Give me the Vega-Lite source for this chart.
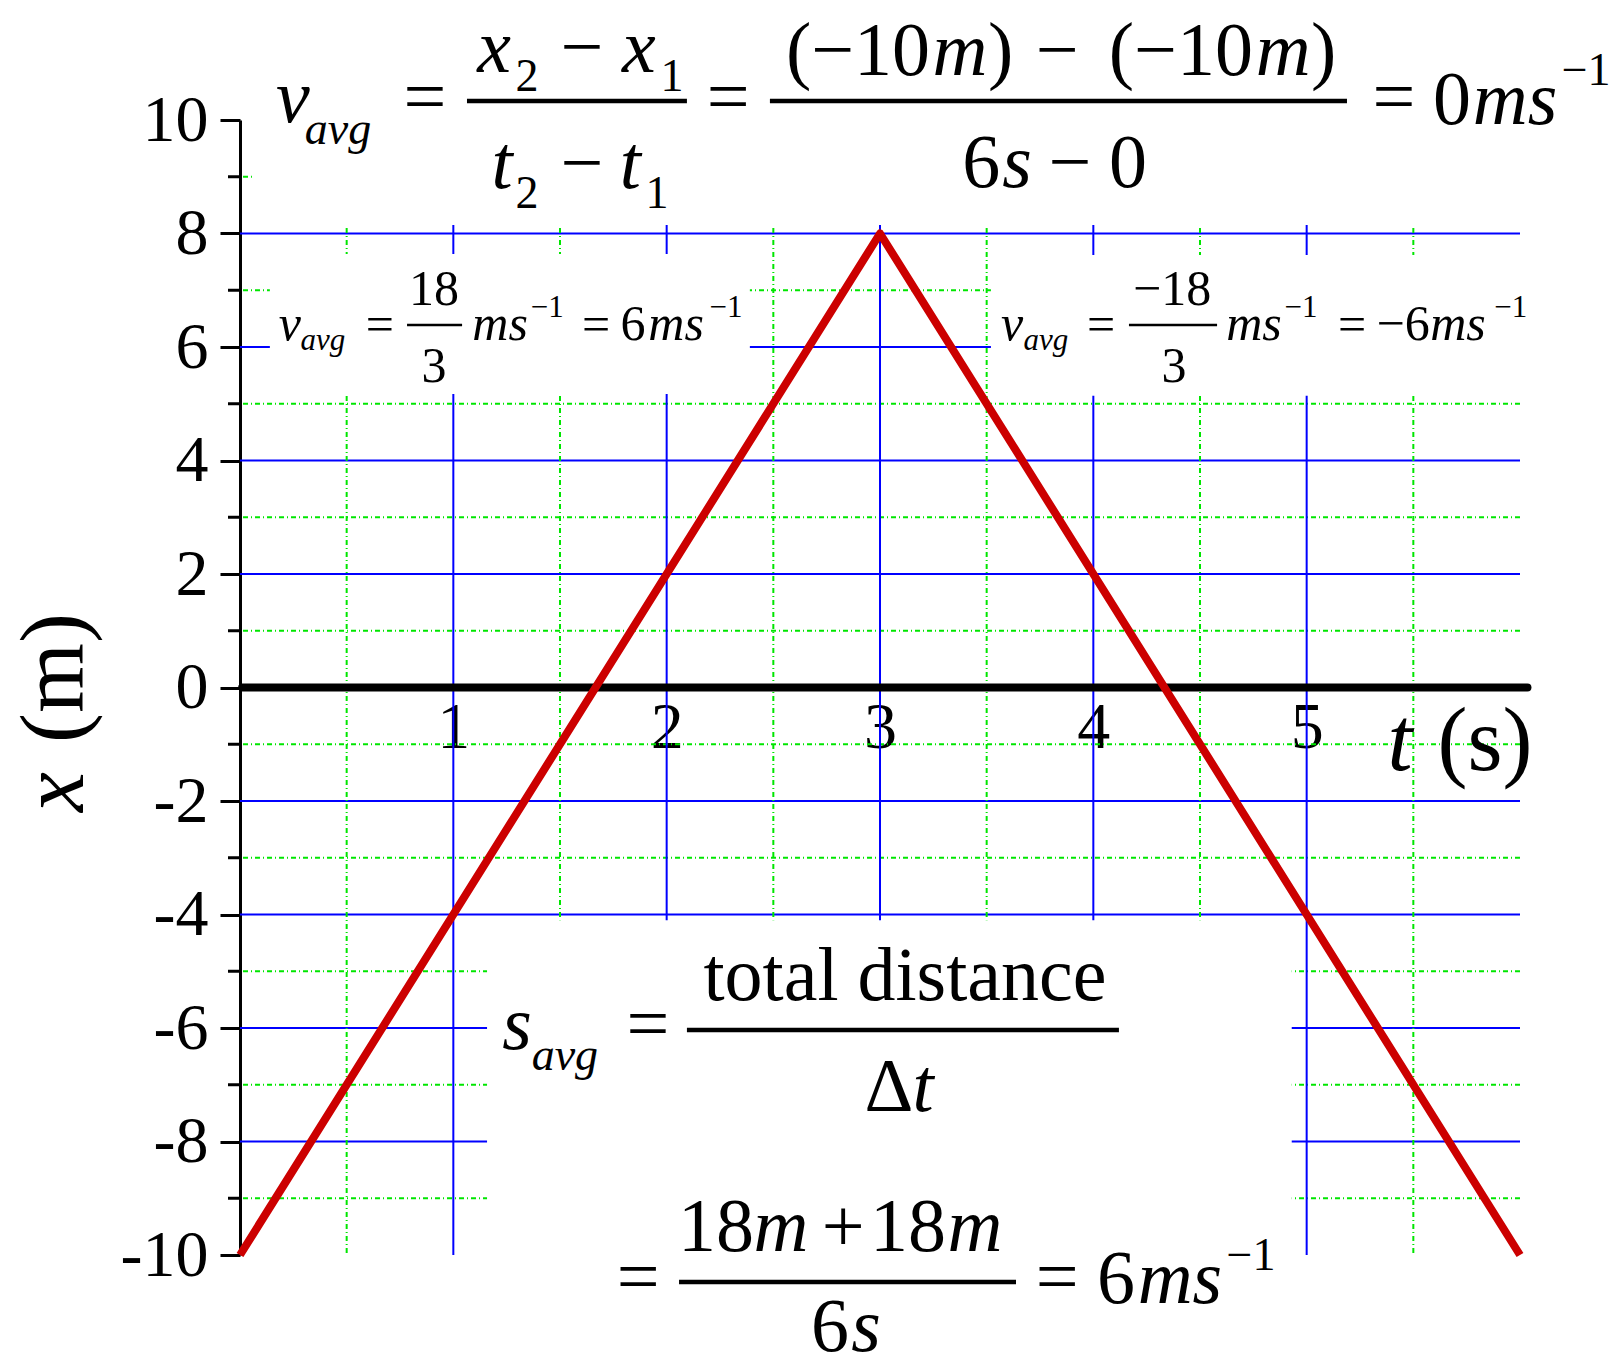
{
  "$schema": "https://vega.github.io/schema/vega-lite/v6.json",
  "autosize": "none",
  "padding": {"left": 240, "top": 120, "right": 101, "bottom": 116},
  "width": 1280,
  "height": 1135,
  "background": "white",
  "config": {"view": {"stroke": null}},
  "datasets": {
    "hgrid": [
      {"y": -9, "kind": "minor"}, {"y": -8, "kind": "major"}, {"y": -7, "kind": "minor"}, {"y": -6, "kind": "major"},
      {"y": -5, "kind": "minor"}, {"y": -4, "kind": "major"}, {"y": -3, "kind": "minor"}, {"y": -2, "kind": "major"},
      {"y": -1, "kind": "minor"}, {"y": 0, "kind": "major"}, {"y": 1, "kind": "minor"}, {"y": 2, "kind": "major"},
      {"y": 3, "kind": "minor"}, {"y": 4, "kind": "major"}, {"y": 5, "kind": "minor"}, {"y": 6, "kind": "major"},
      {"y": 7, "kind": "minor"}, {"y": 8, "kind": "major"}, {"y": 9, "kind": "minor"}
    ],
    "vgrid": [
      {"t": 0.5, "kind": "minor"}, {"t": 1, "kind": "major"}, {"t": 1.5, "kind": "minor"}, {"t": 2, "kind": "major"},
      {"t": 2.5, "kind": "minor"}, {"t": 3, "kind": "major"}, {"t": 3.5, "kind": "minor"}, {"t": 4, "kind": "major"},
      {"t": 4.5, "kind": "minor"}, {"t": 5, "kind": "major"}, {"t": 5.5, "kind": "minor"}
    ],
    "curve": [{"t": 0, "x": -10}, {"t": 3, "x": 8}, {"t": 6, "x": -10}],
    "blanks": [
      {"t1": 0.056, "t2": 6.1, "y1": 8.15, "y2": 10},
      {"t1": 0.14, "t2": 2.39, "y1": 5.17, "y2": 7.64},
      {"t1": 3.52, "t2": 6.1, "y1": 5.14, "y2": 7.62},
      {"t1": 1.158, "t2": 4.93, "y1": -10, "y2": -4.1}
    ],
    "bars": [
      {"t1": 1.064, "t2": 2.095, "y": 10.335, "group": "main"},
      {"t1": 2.484, "t2": 5.189, "y": 10.335, "group": "main"},
      {"t1": 0.783, "t2": 1.041, "y": 6.388, "group": "mid"},
      {"t1": 4.167, "t2": 4.58, "y": 6.388, "group": "mid"},
      {"t1": 2.095, "t2": 4.12, "y": -6.035, "group": "main"},
      {"t1": 2.058, "t2": 3.6375, "y": -10.476, "group": "main"}
    ],
    "texts": [
      {"text": "v", "t": 0.248, "y": 9.965, "role": "main", "kind": "var"},
      {"text": "avg", "t": 0.459, "y": 9.577, "role": "sub", "kind": "var"},
      {"text": "=", "t": 0.867, "y": 9.965, "role": "main", "kind": "num"},
      {"text": "x", "t": 1.191, "y": 10.846, "role": "main", "kind": "var"},
      {"text": "2", "t": 1.345, "y": 10.511, "role": "sub", "kind": "num"},
      {"text": "−", "t": 1.603, "y": 10.846, "role": "main", "kind": "num"},
      {"text": "x", "t": 1.87, "y": 10.846, "role": "main", "kind": "var"},
      {"text": "1", "t": 2.025, "y": 10.511, "role": "sub", "kind": "num"},
      {"text": "t", "t": 1.228, "y": 8.802, "role": "main", "kind": "var"},
      {"text": "2", "t": 1.345, "y": 8.449, "role": "sub", "kind": "num"},
      {"text": "−", "t": 1.603, "y": 8.802, "role": "main", "kind": "num"},
      {"text": "t", "t": 1.83, "y": 8.802, "role": "main", "kind": "var"},
      {"text": "1", "t": 1.955, "y": 8.449, "role": "sub", "kind": "num"},
      {"text": "=", "t": 2.288, "y": 9.965, "role": "main", "kind": "num"},
      {"text": "(−10", "t": 2.897, "y": 10.793, "role": "main", "kind": "num"},
      {"text": "m", "t": 3.375, "y": 10.793, "role": "main", "kind": "var"},
      {"text": ")", "t": 3.565, "y": 10.793, "role": "main", "kind": "num"},
      {"text": "−", "t": 3.83, "y": 10.793, "role": "main", "kind": "num"},
      {"text": "(−10", "t": 4.41, "y": 10.793, "role": "main", "kind": "num"},
      {"text": "m", "t": 4.89, "y": 10.793, "role": "main", "kind": "var"},
      {"text": ")", "t": 5.08, "y": 10.793, "role": "main", "kind": "num"},
      {"text": "6", "t": 3.475, "y": 8.819, "role": "main", "kind": "num"},
      {"text": "s", "t": 3.642, "y": 8.819, "role": "main", "kind": "var"},
      {"text": "−", "t": 3.89, "y": 8.819, "role": "main", "kind": "num"},
      {"text": "0", "t": 4.1625, "y": 8.819, "role": "main", "kind": "num"},
      {"text": "=", "t": 5.409, "y": 9.965, "role": "main", "kind": "num"},
      {"text": "0", "t": 5.681, "y": 9.93, "role": "main", "kind": "num"},
      {"text": "ms", "t": 5.977, "y": 9.93, "role": "main", "kind": "var"},
      {"text": "−1", "t": 6.31, "y": 10.617, "role": "sub", "kind": "num"},
      {"text": "v", "t": 0.234, "y": 6.123, "role": "mid", "kind": "var"},
      {"text": "avg", "t": 0.389, "y": 5.947, "role": "midsub", "kind": "var"},
      {"text": "=", "t": 0.656, "y": 6.106, "role": "mid", "kind": "num"},
      {"text": "18", "t": 0.909, "y": 6.74, "role": "mid", "kind": "num"},
      {"text": "3", "t": 0.909, "y": 5.383, "role": "mid", "kind": "num"},
      {"text": "ms", "t": 1.219, "y": 6.123, "role": "mid", "kind": "var"},
      {"text": "−1", "t": 1.44, "y": 6.529, "role": "midsub", "kind": "num"},
      {"text": "=", "t": 1.669, "y": 6.106, "role": "mid", "kind": "num"},
      {"text": "6", "t": 1.842, "y": 6.123, "role": "mid", "kind": "num"},
      {"text": "ms", "t": 2.044, "y": 6.123, "role": "mid", "kind": "var"},
      {"text": "−1", "t": 2.278, "y": 6.529, "role": "midsub", "kind": "num"},
      {"text": "v", "t": 3.619, "y": 6.123, "role": "mid", "kind": "var"},
      {"text": "avg", "t": 3.778, "y": 5.947, "role": "midsub", "kind": "var"},
      {"text": "=", "t": 4.036, "y": 6.106, "role": "mid", "kind": "num"},
      {"text": "−18", "t": 4.369, "y": 6.74, "role": "mid", "kind": "num"},
      {"text": "3", "t": 4.378, "y": 5.383, "role": "mid", "kind": "num"},
      {"text": "ms", "t": 4.753, "y": 6.123, "role": "mid", "kind": "var"},
      {"text": "−1", "t": 4.973, "y": 6.529, "role": "midsub", "kind": "num"},
      {"text": "=", "t": 5.2125, "y": 6.106, "role": "mid", "kind": "num"},
      {"text": "−6", "t": 5.452, "y": 6.123, "role": "mid", "kind": "num"},
      {"text": "ms", "t": 5.709, "y": 6.123, "role": "mid", "kind": "var"},
      {"text": "−1", "t": 5.957, "y": 6.529, "role": "midsub", "kind": "num"},
      {"text": "s", "t": 1.298, "y": -6.37, "role": "main", "kind": "var"},
      {"text": "avg", "t": 1.523, "y": -6.74, "role": "sub", "kind": "var"},
      {"text": "=", "t": 1.9125, "y": -6.37, "role": "main", "kind": "num"},
      {"text": "total distance", "t": 3.117, "y": -5.507, "role": "main", "kind": "num"},
      {"text": "Δ", "t": 3.042, "y": -7.463, "role": "main", "kind": "num"},
      {"text": "t", "t": 3.202, "y": -7.463, "role": "main", "kind": "var"},
      {"text": "=", "t": 1.866, "y": -10.828, "role": "main", "kind": "num"},
      {"text": "18", "t": 2.231, "y": -9.93, "role": "main", "kind": "num"},
      {"text": "m", "t": 2.536, "y": -9.93, "role": "main", "kind": "var"},
      {"text": "+", "t": 2.827, "y": -9.93, "role": "main", "kind": "num"},
      {"text": "18", "t": 3.131, "y": -9.93, "role": "main", "kind": "num"},
      {"text": "m", "t": 3.445, "y": -9.93, "role": "main", "kind": "var"},
      {"text": "6", "t": 2.766, "y": -11.7, "role": "main", "kind": "num"},
      {"text": "s", "t": 2.934, "y": -11.7, "role": "main", "kind": "var"},
      {"text": "=", "t": 3.83, "y": -10.828, "role": "main", "kind": "num"},
      {"text": "6", "t": 4.106, "y": -10.846, "role": "main", "kind": "num"},
      {"text": "ms", "t": 4.406, "y": -10.846, "role": "main", "kind": "var"},
      {"text": "−1", "t": 4.739, "y": -10.264, "role": "sub", "kind": "num"},
      {"text": "t", "t": 5.4375, "y": -1.454, "role": "axis", "kind": "var"},
      {"text": "(s)", "t": 5.836, "y": -1.454, "role": "axis", "kind": "num"},
      {"text": "x", "t": -0.736, "y": -1.841, "role": "ytitle", "kind": "var"},
      {"text": "(m)", "t": -0.736, "y": 0.167, "role": "ytitle", "kind": "num"}
    ]
  },
  "layer": [
    {
      "data": {"name": "hgrid"},
      "mark": {"type": "rule", "strokeWidth": 2},
      "encoding": {
        "y": {
          "field": "y", "type": "quantitative",
          "scale": {"domain": [-10, 10], "nice": false, "zero": false},
          "axis": {"values": [-10, -8, -6, -4, -2, 0, 2, 4, 6, 8, 10], "grid": false, "title": null, "domainColor": "black", "domainWidth": 3, "tickColor": "black", "tickWidth": 3, "tickSize": 20, "labelFont": "Liberation Serif", "labelFontSize": 66, "labelColor": "black", "labelPadding": 12, "labelExpr": "'' + datum.value"}
        },
        "color": {"field": "kind", "type": "nominal", "scale": {"domain": ["major", "minor"], "range": ["#0000ff", "#00e600"]}, "legend": null},
        "strokeDash": {"field": "kind", "type": "nominal", "scale": {"domain": ["major", "minor"], "range": [[1, 0], [5, 3, 1, 3]]}, "legend": null}
      }
    },
    {
      "data": {"name": "vgrid"},
      "mark": {"type": "rule", "strokeWidth": 2},
      "encoding": {
        "x": {
          "field": "t", "type": "quantitative",
          "scale": {"domain": [0, 6], "nice": false, "zero": false},
          "axis": {"values": [1, 2, 3, 4, 5], "orient": "bottom", "offset": -567.5, "domain": false, "ticks": false, "tickSize": 0, "grid": false, "title": null, "labelFont": "Liberation Serif", "labelFontSize": 66, "labelColor": "black", "labelBaseline": "alphabetic", "labelPadding": 60}
        },
        "color": {"field": "kind", "type": "nominal", "scale": {"domain": ["major", "minor"], "range": ["#0000ff", "#00e600"]}, "legend": null},
        "strokeDash": {"field": "kind", "type": "nominal", "scale": {"domain": ["major", "minor"], "range": [[1, 0], [5, 3, 1, 3]]}, "legend": null}
      }
    },
    {
      "data": {"name": "hgrid"},
      "transform": [{"filter": "datum.kind === 'minor'"}],
      "mark": {"type": "rule", "color": "black", "strokeWidth": 3},
      "encoding": {
        "x": {"datum": -0.05625, "type": "quantitative", "scale": {"domain": [0, 6], "nice": false, "zero": false}, "axis": {"values": [1, 2, 3, 4, 5], "orient": "bottom", "offset": -567.5, "domain": false, "ticks": false, "tickSize": 0, "grid": false, "title": null, "labelFont": "Liberation Serif", "labelFontSize": 66, "labelColor": "black", "labelBaseline": "alphabetic", "labelPadding": 60}},
        "x2": {"datum": 0},
        "y": {"field": "y", "type": "quantitative", "scale": {"domain": [-10, 10], "nice": false, "zero": false}, "axis": {"values": [-10, -8, -6, -4, -2, 0, 2, 4, 6, 8, 10], "grid": false, "title": null, "domainColor": "black", "domainWidth": 3, "tickColor": "black", "tickWidth": 3, "tickSize": 20, "labelFont": "Liberation Serif", "labelFontSize": 66, "labelColor": "black", "labelPadding": 12, "labelExpr": "'' + datum.value"}}
      }
    },
    {
      "data": {"name": "blanks"},
      "mark": {"type": "rect", "color": "white"},
      "encoding": {
        "x": {"field": "t1", "type": "quantitative", "scale": {"domain": [0, 6], "nice": false, "zero": false}, "axis": {"values": [1, 2, 3, 4, 5], "orient": "bottom", "offset": -567.5, "domain": false, "ticks": false, "tickSize": 0, "grid": false, "title": null, "labelFont": "Liberation Serif", "labelFontSize": 66, "labelColor": "black", "labelBaseline": "alphabetic", "labelPadding": 60}},
        "x2": {"field": "t2"},
        "y": {"field": "y1", "type": "quantitative", "scale": {"domain": [-10, 10], "nice": false, "zero": false}, "axis": {"values": [-10, -8, -6, -4, -2, 0, 2, 4, 6, 8, 10], "grid": false, "title": null, "domainColor": "black", "domainWidth": 3, "tickColor": "black", "tickWidth": 3, "tickSize": 20, "labelFont": "Liberation Serif", "labelFontSize": 66, "labelColor": "black", "labelPadding": 12, "labelExpr": "'' + datum.value"}},
        "y2": {"field": "y2"}
      }
    },
    {
      "data": {"values": [{"t1": 0.01, "t2": 6.035, "y": 0}]},
      "mark": {"type": "rule", "color": "black", "strokeWidth": 8, "strokeCap": "round"},
      "encoding": {
        "x": {"field": "t1", "type": "quantitative", "scale": {"domain": [0, 6], "nice": false, "zero": false}, "axis": {"values": [1, 2, 3, 4, 5], "orient": "bottom", "offset": -567.5, "domain": false, "ticks": false, "tickSize": 0, "grid": false, "title": null, "labelFont": "Liberation Serif", "labelFontSize": 66, "labelColor": "black", "labelBaseline": "alphabetic", "labelPadding": 60}},
        "x2": {"field": "t2"},
        "y": {"field": "y", "type": "quantitative", "scale": {"domain": [-10, 10], "nice": false, "zero": false}, "axis": {"values": [-10, -8, -6, -4, -2, 0, 2, 4, 6, 8, 10], "grid": false, "title": null, "domainColor": "black", "domainWidth": 3, "tickColor": "black", "tickWidth": 3, "tickSize": 20, "labelFont": "Liberation Serif", "labelFontSize": 66, "labelColor": "black", "labelPadding": 12, "labelExpr": "'' + datum.value"}}
      }
    },
    {
      "data": {"name": "curve"},
      "mark": {"type": "line", "color": "#cc0000", "strokeWidth": 8, "strokeJoin": "round"},
      "encoding": {
        "x": {"field": "t", "type": "quantitative", "scale": {"domain": [0, 6], "nice": false, "zero": false}, "axis": {"values": [1, 2, 3, 4, 5], "orient": "bottom", "offset": -567.5, "domain": false, "ticks": false, "tickSize": 0, "grid": false, "title": null, "labelFont": "Liberation Serif", "labelFontSize": 66, "labelColor": "black", "labelBaseline": "alphabetic", "labelPadding": 60}},
        "y": {"field": "x", "type": "quantitative", "scale": {"domain": [-10, 10], "nice": false, "zero": false}, "axis": {"values": [-10, -8, -6, -4, -2, 0, 2, 4, 6, 8, 10], "grid": false, "title": null, "domainColor": "black", "domainWidth": 3, "tickColor": "black", "tickWidth": 3, "tickSize": 20, "labelFont": "Liberation Serif", "labelFontSize": 66, "labelColor": "black", "labelPadding": 12, "labelExpr": "'' + datum.value"}},
        "order": {"field": "t"}
      }
    },
    {
      "data": {"name": "bars"},
      "transform": [{"filter": "datum.group === 'main'"}],
      "mark": {"type": "rule", "color": "black", "strokeWidth": 4.5},
      "encoding": {
        "x": {"field": "t1", "type": "quantitative", "scale": {"domain": [0, 6], "nice": false, "zero": false}, "axis": {"values": [1, 2, 3, 4, 5], "orient": "bottom", "offset": -567.5, "domain": false, "ticks": false, "tickSize": 0, "grid": false, "title": null, "labelFont": "Liberation Serif", "labelFontSize": 66, "labelColor": "black", "labelBaseline": "alphabetic", "labelPadding": 60}},
        "x2": {"field": "t2"},
        "y": {"field": "y", "type": "quantitative", "scale": {"domain": [-10, 10], "nice": false, "zero": false}, "axis": {"values": [-10, -8, -6, -4, -2, 0, 2, 4, 6, 8, 10], "grid": false, "title": null, "domainColor": "black", "domainWidth": 3, "tickColor": "black", "tickWidth": 3, "tickSize": 20, "labelFont": "Liberation Serif", "labelFontSize": 66, "labelColor": "black", "labelPadding": 12, "labelExpr": "'' + datum.value"}}
      }
    },
    {
      "data": {"name": "bars"},
      "transform": [{"filter": "datum.group === 'mid'"}],
      "mark": {"type": "rule", "color": "black", "strokeWidth": 2.5},
      "encoding": {
        "x": {"field": "t1", "type": "quantitative", "scale": {"domain": [0, 6], "nice": false, "zero": false}, "axis": {"values": [1, 2, 3, 4, 5], "orient": "bottom", "offset": -567.5, "domain": false, "ticks": false, "tickSize": 0, "grid": false, "title": null, "labelFont": "Liberation Serif", "labelFontSize": 66, "labelColor": "black", "labelBaseline": "alphabetic", "labelPadding": 60}},
        "x2": {"field": "t2"},
        "y": {"field": "y", "type": "quantitative", "scale": {"domain": [-10, 10], "nice": false, "zero": false}, "axis": {"values": [-10, -8, -6, -4, -2, 0, 2, 4, 6, 8, 10], "grid": false, "title": null, "domainColor": "black", "domainWidth": 3, "tickColor": "black", "tickWidth": 3, "tickSize": 20, "labelFont": "Liberation Serif", "labelFontSize": 66, "labelColor": "black", "labelPadding": 12, "labelExpr": "'' + datum.value"}}
      }
    },
    {
      "data": {"name": "texts"},
      "transform": [{"filter": "datum.role !== 'ytitle'"}],
      "mark": {
        "type": "text", "font": "Liberation Serif", "color": "black", "align": "center", "baseline": "alphabetic",
        "fontSize": {"expr": "datum.role === 'main' ? 76 : datum.role === 'sub' ? 46 : datum.role === 'mid' ? 50 : datum.role === 'midsub' ? 31 : 90"},
        "fontStyle": {"expr": "datum.kind === 'var' ? 'italic' : 'normal'"}
      },
      "encoding": {
        "x": {"field": "t", "type": "quantitative", "scale": {"domain": [0, 6], "nice": false, "zero": false}, "axis": {"values": [1, 2, 3, 4, 5], "orient": "bottom", "offset": -567.5, "domain": false, "ticks": false, "tickSize": 0, "grid": false, "title": null, "labelFont": "Liberation Serif", "labelFontSize": 66, "labelColor": "black", "labelBaseline": "alphabetic", "labelPadding": 60}},
        "y": {"field": "y", "type": "quantitative", "scale": {"domain": [-10, 10], "nice": false, "zero": false}, "axis": {"values": [-10, -8, -6, -4, -2, 0, 2, 4, 6, 8, 10], "grid": false, "title": null, "domainColor": "black", "domainWidth": 3, "tickColor": "black", "tickWidth": 3, "tickSize": 20, "labelFont": "Liberation Serif", "labelFontSize": 66, "labelColor": "black", "labelPadding": 12, "labelExpr": "'' + datum.value"}},
        "text": {"field": "text"}
      }
    },
    {
      "data": {"name": "texts"},
      "transform": [{"filter": "datum.role === 'ytitle'"}],
      "mark": {
        "type": "text", "font": "Liberation Serif", "color": "black", "align": "center", "baseline": "alphabetic",
        "angle": 270, "fontSize": 90,
        "fontStyle": {"expr": "datum.kind === 'var' ? 'italic' : 'normal'"}
      },
      "encoding": {
        "x": {"field": "t", "type": "quantitative", "scale": {"domain": [0, 6], "nice": false, "zero": false}, "axis": {"values": [1, 2, 3, 4, 5], "orient": "bottom", "offset": -567.5, "domain": false, "ticks": false, "tickSize": 0, "grid": false, "title": null, "labelFont": "Liberation Serif", "labelFontSize": 66, "labelColor": "black", "labelBaseline": "alphabetic", "labelPadding": 60}},
        "y": {"field": "y", "type": "quantitative", "scale": {"domain": [-10, 10], "nice": false, "zero": false}, "axis": {"values": [-10, -8, -6, -4, -2, 0, 2, 4, 6, 8, 10], "grid": false, "title": null, "domainColor": "black", "domainWidth": 3, "tickColor": "black", "tickWidth": 3, "tickSize": 20, "labelFont": "Liberation Serif", "labelFontSize": 66, "labelColor": "black", "labelPadding": 12, "labelExpr": "'' + datum.value"}},
        "text": {"field": "text"}
      }
    }
  ]
}
